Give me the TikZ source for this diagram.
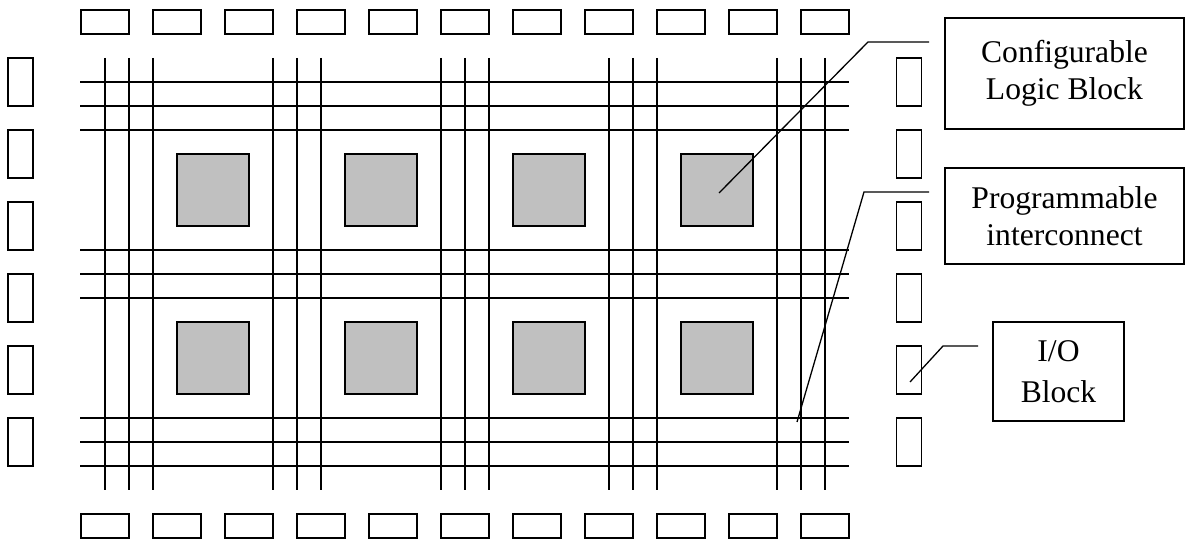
\documentclass[tikz,border=0pt]{standalone}
\usepackage{fontspec}
\setmainfont{Liberation Serif}
\usepackage{tikz}
\usetikzlibrary{positioning,calc}

\definecolor{clbgray}{RGB}{192,192,192}

\tikzset{
  wire/.style={line width=0.65pt},
  hpad/.style={draw,line width=0.65pt,minimum width=24pt,minimum height=12pt,inner sep=0pt},
  vpad/.style={draw,line width=0.65pt,minimum width=12.5pt,minimum height=24pt,inner sep=0pt},
  clb/.style={draw,line width=0.65pt,fill=clbgray,minimum size=36pt,inner sep=0pt},
  tag/.style={draw,line width=0.65pt,align=center,inner sep=0pt,font=\fontsize{15.8}{18.3}\selectfont}
}

\begin{document}
\begin{tikzpicture}[x=0.5pt,y=-0.5pt]
\useasboundingbox (0,0) rectangle (1185,540);
% routing channels
\foreach \g in {0,...,4}{
  \foreach \k in {0,1,2}{
    \draw[wire] ({105+168*\g+24*\k},58) -- ({105+168*\g+24*\k},490);
  }
}
\foreach \g in {0,1,2}{
  \foreach \k in {0,1,2}{
    \draw[wire] (80,{82+168*\g+24*\k}) -- (849,{82+168*\g+24*\k});
  }
}
% logic blocks
\foreach \r in {1,2}{
  \foreach \c in {1,...,4}{
    \node[clb] (cell-\r-\c) at ({213+168*(\c-1)},{190+168*(\r-1)}) {};
  }
}
% I/O pads
\foreach \i in {1,...,11}{
  \node[hpad] (top-\i) at ({105+72*(\i-1)},22) {};
  \node[hpad] (bot-\i) at ({105+72*(\i-1)},526) {};
}
\foreach \j in {1,...,6}{
  \node[vpad] (left-\j) at (20.5,{82+72*(\j-1)}) {};
  \node[vpad] (right-\j) at (909,{82+72*(\j-1)}) {};
}
% labels
\node[tag,minimum width=119.5pt,minimum height=55.5pt] (clbbox) at (1064.5,73.5) {Configurable\\Logic Block};
\node[tag,minimum width=119.5pt,minimum height=48pt] (pibox) at (1064.5,216) {Programmable\\interconnect};
\node[tag,minimum width=65.5pt,minimum height=49.5pt,font=\fontsize{15.8}{20.3}\selectfont] (iobox) at (1058.5,371.5) {I/O\\Block};
\coordinate (clbtip) at (929,42);
\coordinate (clbknee) at (868,42);
\coordinate (pitip) at (929,192);
\coordinate (piknee) at (864,192);
\coordinate (piend) at (797,422);
\coordinate (iotip) at (978,346);
\coordinate (ioknee) at (943,346);
\coordinate (ioend) at (910,382);
\draw[wire] (clbtip) -- (clbknee) -- ([shift={(1pt,-1.5pt)}]cell-1-4.center);
\draw[wire] (pitip) -- (piknee) -- (piend);
\draw[wire] (iotip) -- (ioknee) -- (ioend);
\end{tikzpicture}
\end{document}
